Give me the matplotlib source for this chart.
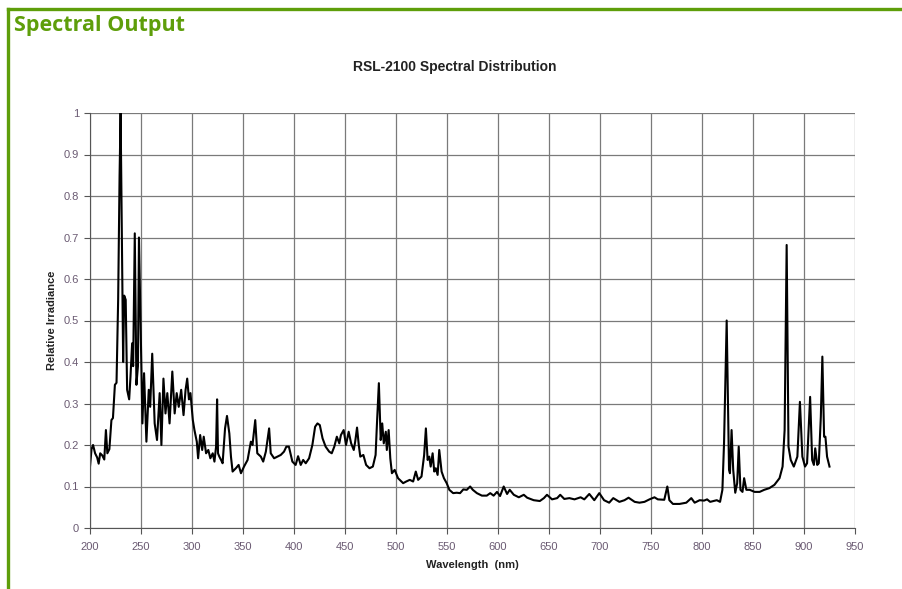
import matplotlib.pyplot as plt
from matplotlib.lines import Line2D

# spectrum
wavelength = [
    200, 201.5, 203, 205, 207, 208.5, 210, 212, 214, 215.6, 217, 219, 221, 222.5, 224.4,
    226, 227.6, 229, 230, 231, 232.5, 233.5, 235, 236.4, 238.4, 239.7, 241.3, 242.3,
    243.9, 245.5, 247, 248, 249.4, 251.4, 253, 255.3, 257.6, 259, 261, 263.4, 265.7,
    268.3, 270, 272, 274, 275.8, 278, 280.7, 283, 285, 287, 289.4, 291.7, 293.7, 295.3,
    297, 298.5, 300.8, 302.4, 304.7, 306, 308, 310, 311.5, 313.8, 316, 318, 320.3, 322,
    323.6, 324.6, 325.5, 326.8, 328.5, 330, 332.4, 334.3, 336.6, 338.2, 339.8, 343,
    345.7, 348, 351, 354.5, 357.7, 359.3, 362, 364, 367.5, 369.8, 372.4, 375.6, 377.2,
    380.5, 383.7, 387, 390.2, 392.5, 395, 398.4, 401.6, 404, 406.6, 409, 411.5, 414.8,
    418, 420.7, 423, 425.3, 428, 431, 434.5, 437, 439.5, 442, 444.4, 446, 448.7, 451,
    453.6, 456, 458.6, 460, 461.8, 463.5, 465, 468, 470.7, 474, 477.3, 480, 481.3,
    483.2, 485, 486.5, 488, 490, 491, 492.8, 494.4, 496, 498.7, 502, 507, 510, 513.5,
    516.8, 519.4, 521.7, 525, 527.6, 529.3, 531, 532.6, 534, 535.9, 537.5, 539, 540.8,
    542.4, 544.7, 547, 549.7, 552.3, 556, 559.5, 562.8, 566, 569.4, 572.7, 575.3,
    579.3, 584.2, 589, 592.4, 595.7, 599, 602, 605.6, 608.9, 611.5, 615.5, 620.4,
    625.3, 628.6, 635, 641, 645, 648, 653, 658, 661, 665, 670, 675, 681, 684.6, 689.5,
    694.4, 699.3, 704, 709, 713, 719, 724, 728, 734, 738.7, 743.6, 748.5, 753.4, 756.7,
    763, 766, 768, 771.5, 778, 784.6, 789.5, 792.8, 797.7, 802, 805, 808, 814.5, 817.7,
    820, 821.6, 824.2, 826.5, 827.4, 829, 830.6, 832.6, 834.5, 836, 837.7, 839.7,
    841.3, 843.5, 846.8, 851.6, 856.5, 861, 866, 871, 876, 879, 881, 883, 884.8, 887,
    890, 893.5, 896, 898.4, 901, 903, 906, 908, 909.7, 911, 913, 914.5, 916.5, 918,
    919.7, 921, 922.6, 925,
]
irradiance = [
    0.148, 0.19, 0.20, 0.18, 0.17, 0.155, 0.18, 0.175, 0.165, 0.236, 0.18, 0.19, 0.26, 0.265, 0.345,
    0.35, 0.55, 0.85, 1.0, 0.75, 0.40, 0.56, 0.55, 0.333, 0.31, 0.365, 0.445, 0.39,
    0.71, 0.345, 0.39, 0.70, 0.517, 0.252, 0.373, 0.208, 0.333, 0.292, 0.42, 0.252, 0.212,
    0.325, 0.20, 0.36, 0.276, 0.325, 0.252, 0.377, 0.276, 0.325, 0.292, 0.333, 0.272, 0.333, 0.36,
    0.31, 0.325, 0.26, 0.236, 0.208, 0.168, 0.224, 0.188, 0.22, 0.18, 0.188, 0.168, 0.18, 0.16,
    0.196, 0.31, 0.18, 0.172, 0.164, 0.156, 0.24, 0.27, 0.228, 0.172, 0.136, 0.144,
    0.152, 0.132, 0.148, 0.164, 0.208, 0.2, 0.26, 0.18, 0.172, 0.16, 0.184, 0.24, 0.18,
    0.168, 0.172, 0.176, 0.184, 0.196, 0.196, 0.16, 0.152, 0.173, 0.152, 0.164, 0.156, 0.168,
    0.2, 0.244, 0.252, 0.248, 0.216, 0.196, 0.184, 0.18, 0.196, 0.22, 0.204, 0.224, 0.236, 0.2,
    0.232, 0.204, 0.188, 0.208, 0.242, 0.2, 0.172, 0.176, 0.152, 0.144, 0.148, 0.176, 0.25,
    0.349, 0.212, 0.252, 0.204, 0.232, 0.188, 0.236, 0.168, 0.132, 0.14, 0.12, 0.108, 0.112, 0.116,
    0.112, 0.136, 0.116, 0.124, 0.176, 0.24, 0.164, 0.172, 0.148, 0.18, 0.136, 0.144, 0.128,
    0.188, 0.136, 0.12, 0.108, 0.092, 0.084, 0.085, 0.084, 0.093, 0.092, 0.1, 0.092,
    0.084, 0.078, 0.078, 0.084, 0.078, 0.087, 0.077, 0.1, 0.082, 0.092, 0.08, 0.074,
    0.08, 0.073, 0.067, 0.065, 0.072, 0.08, 0.069, 0.072, 0.08, 0.07, 0.072, 0.069, 0.074, 0.069, 0.082,
    0.067, 0.084, 0.067, 0.061, 0.072, 0.063, 0.067, 0.073, 0.063, 0.061, 0.063, 0.069, 0.074, 0.069,
    0.068, 0.1, 0.067, 0.058, 0.058, 0.061, 0.072, 0.061, 0.067, 0.066, 0.069, 0.063, 0.067, 0.063,
    0.092, 0.204, 0.50, 0.14, 0.132, 0.236, 0.14, 0.085, 0.108, 0.196, 0.092, 0.087,
    0.12, 0.092, 0.092, 0.087, 0.087, 0.092, 0.096, 0.104, 0.12, 0.148, 0.236, 0.682, 0.196, 0.164,
    0.148, 0.172, 0.304, 0.172, 0.148, 0.156, 0.316, 0.164, 0.152, 0.192, 0.152, 0.156, 0.268, 0.413,
    0.22, 0.22, 0.172, 0.148,
]

x_ticks = list(range(200, 951, 50))
y_ticks = [0, 0.1, 0.2, 0.3, 0.4, 0.5, 0.6, 0.7, 0.8, 0.9, 1]
y_tick_labels = ['0', '0.1', '0.2', '0.3', '0.4', '0.5', '0.6', '0.7', '0.8', '0.9', '1']

green = '#5e9e0a'

fig = plt.figure(figsize=(9.03, 5.89), dpi=100)
fig.patch.set_facecolor('white')

# green page frame and section heading
fig.add_artist(Line2D([8 / 903, 1.0], [1 - 9 / 589, 1 - 9 / 589], color=green, lw=2.4))
fig.add_artist(Line2D([8 / 903, 8 / 903], [0, 1 - 9 / 589], color=green, lw=2.4))
fig.text(14 / 903, 1 - 26 / 589, 'Spectral Output', color=green, fontsize=15.5,
         fontweight='bold', family='Open Sans', va='center', ha='left')

ax = fig.add_axes([90 / 903, 1 - 528 / 589, 765 / 903, 415 / 589])
ax.plot(wavelength, irradiance, color='black', lw=1.5)

ax.set_xlim(200, 950)
ax.set_ylim(0, 1)
ax.set_xticks(x_ticks)
ax.set_yticks(y_ticks)
ax.set_yticklabels(y_tick_labels)
ax.grid(True, color='#7a7a7a', lw=0.9)
ax.set_axisbelow(True)

for side in ['top', 'right']:
    ax.spines[side].set_visible(False)
for side in ['left', 'bottom']:
    ax.spines[side].set_color('#555555')

ax.tick_params(labelsize=8, labelcolor='#6a5a72', color='#555555', length=4, width=0.8)
ax.tick_params(axis='x', pad=6)
ax.tick_params(axis='y', pad=4)
for lbl in ax.get_xticklabels() + ax.get_yticklabels():
    lbl.set_family('Liberation Sans')

fig.text(455 / 903, 1 - 67 / 589, 'RSL-2100 Spectral Distribution', fontsize=10,
         fontweight='bold', family='Liberation Sans', ha='center', va='center', color='#222222')
ax.set_xlabel('Wavelength  (nm)', fontsize=8, fontweight='bold', family='Liberation Sans',
              labelpad=6, color='#222222')
ax.set_ylabel('Relative Irradiance', fontsize=8, fontweight='bold', family='Liberation Sans',
              labelpad=5, color='#222222')

fig.savefig('out.png', dpi=100)
